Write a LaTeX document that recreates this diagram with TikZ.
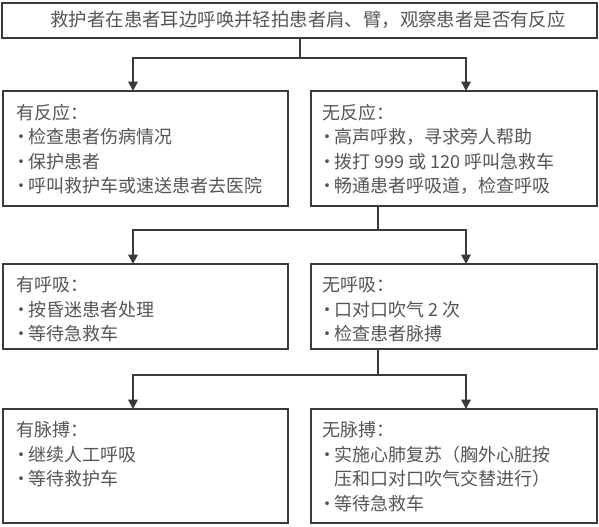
\documentclass[tikz,border=0pt]{standalone}
\usepackage{fontspec}
\newfontfamily\cjk{Noto Sans CJK SC}
\usetikzlibrary{arrows.meta,fit}
\definecolor{ln}{HTML}{3A3A3A}
\definecolor{tx}{HTML}{555555}
\newcommand{\bul}{\makebox[7.5pt][c]{•}\hspace*{2pt}}
\newcommand{\ind}{\hspace*{9.5pt}}
\begin{document}
\begin{tikzpicture}[x=0.75pt,y=-0.75pt,
  box/.style={draw=ln,line width=1.4pt,inner sep=0pt},
  txt/.style={anchor=north west,inner sep=0pt,align=left,text=tx,
    font=\cjk\fontsize{13.5pt}{18.4pt}\selectfont},
  conn/.style={draw=ln,line width=1.4pt},
  arr/.style={conn,-{Triangle[length=7pt,width=7pt]}}]
\useasboundingbox (0,0) rectangle (599,526);
% boxes
\node[box,fit={(2,3) (597,38)}] (top) {};
\node[box,fit={(3,91) (288,206)}] (b2l) {};
\node[box,fit={(311,91) (597,206)}] (b2r) {};
\node[box,fit={(3,264) (288,349)}] (b3l) {};
\node[box,fit={(311,264) (597,349)}] (b3r) {};
\node[box,fit={(3,409) (288,523)}] (b4l) {};
\node[box,fit={(311,409) (597,523)}] (b4r) {};
% texts
\node[anchor=center,inner sep=0pt,text=tx,font=\cjk\fontsize{13.8pt}{16pt}\selectfont] (ttop) at (308,20) {救护者在患者耳边呼唤并轻拍患者肩、臂，观察患者是否有反应};
\node[txt] (t2l) at (16,103.5) {有反应：\\\bul 检查患者伤病情况\\\bul 保护患者\\\bul 呼叫救护车或速送患者去医院};
\node[txt] (t2r) at (322,103.5) {无反应：\\\bul 高声呼救，寻求旁人帮助\\\bul 拨打 999 或 120 呼叫急救车\\\bul 畅通患者呼吸道，检查呼吸};
\node[txt] (t3l) at (16,276.5) {有呼吸：\\\bul 按昏迷患者处理\\\bul 等待急救车};
\node[txt] (t3r) at (322,276.5) {无呼吸：\\\bul 口对口吹气 2 次\\\bul 检查患者脉搏};
\node[txt] (t4l) at (16,421.5) {有脉搏：\\\bul 继续人工呼吸\\\bul 等待救护车};
\node[txt] (t4r) at (322,421.5) {无脉搏：\\\bul 实施心肺复苏（胸外心脏按\\\ind 压和口对口吹气交替进行）\\\bul 等待急救车};
% connectors
\coordinate (j1) at (300,58);
\coordinate (a1l) at (133,91);
\coordinate (a1r) at (466,91);
\draw[conn] (top.south -| j1) -- (j1);
\draw[arr] (j1) -| (a1l);
\draw[arr] (j1) -| (a1r);
\coordinate (s2) at (378,206);
\coordinate (j2) at (378,230);
\coordinate (a2l) at (133,264);
\coordinate (a2r) at (466,264);
\draw[conn] (s2) -- (j2);
\draw[arr] (j2) -| (a2l);
\draw[arr] (j2) -| (a2r);
\coordinate (s3) at (378,349);
\coordinate (j3) at (378,375);
\coordinate (a3l) at (133,409);
\coordinate (a3r) at (466,409);
\draw[conn] (s3) -- (j3);
\draw[arr] (j3) -| (a3l);
\draw[arr] (j3) -| (a3r);
\end{tikzpicture}
\end{document}
